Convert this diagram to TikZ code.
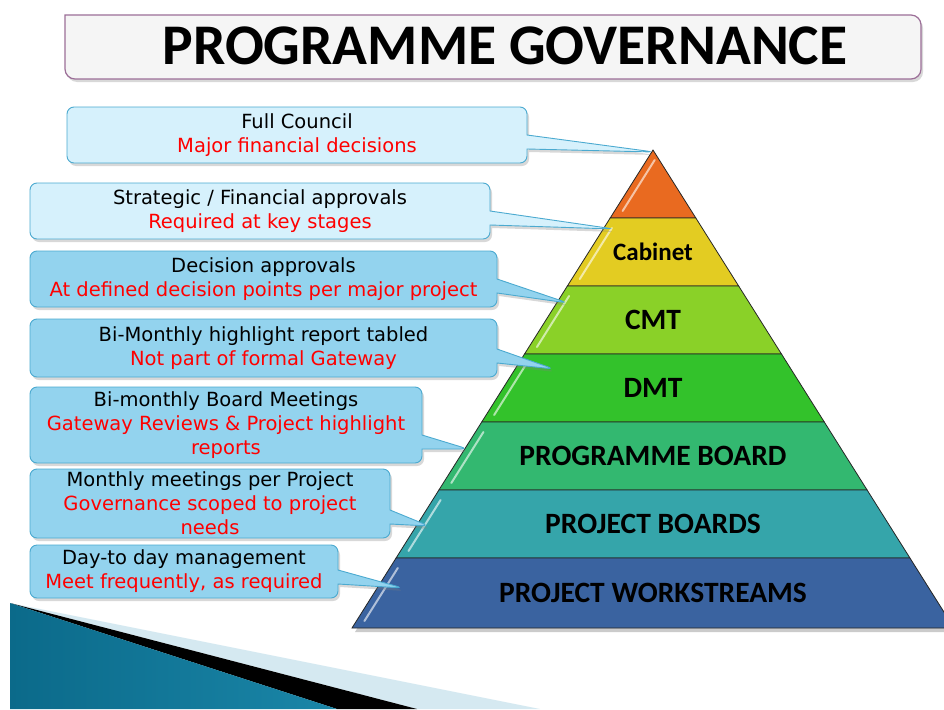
\documentclass[tikz,border=0pt]{standalone}
\usepackage{fontspec}
\setmainfont{DejaVu Sans}
\newfontfamily\calfont{Carlito}
\usetikzlibrary{shapes.callouts,shadows}

\definecolor{palenote}{HTML}{D6F1FC}
\definecolor{deepnote}{HTML}{93D3EE}
\definecolor{noteline}{HTML}{4BAAD0}
\definecolor{titleline}{HTML}{9C6F98}
\definecolor{tierA}{HTML}{E96A20}
\definecolor{tierB}{HTML}{E3CC22}
\definecolor{tierC}{HTML}{8AD128}
\definecolor{tierD}{HTML}{33C22B}
\definecolor{tierE}{HTML}{33B870}
\definecolor{tierF}{HTML}{35A5AA}
\definecolor{tierG}{HTML}{3A63A0}
\definecolor{wedgedark}{HTML}{0B6A8A}
\definecolor{wedgelight}{HTML}{45AED0}
\definecolor{wedgeend}{HTML}{1A86A8}
\definecolor{wedgepale}{HTML}{D5E9F1}

\begin{document}
\begin{tikzpicture}
  [x=1pt,y=-1pt,
   every node/.style={inner sep=0pt,align=center},
   note/.style={rectangle callout,rounded corners=7pt,draw=noteline,line width=0.9pt,
     callout pointer width=14pt,font=\fontsize{19.5}{24}\selectfont,
     drop shadow={opacity=0.3,shadow xshift=2pt,shadow yshift=-3pt}},
   pale/.style={note,fill=palenote},
   deep/.style={note,fill=deepnote},
   tier/.style={font=\calfont\bfseries\fontsize{29.5}{30}\selectfont}]

  \useasboundingbox (0,0) rectangle (944,709);
  \fill[white] (0,0) rectangle (944,709);

  % title bar
  \draw[titleline,line width=1.2pt,fill=black!4,
        drop shadow={opacity=0.3,shadow xshift=2pt,shadow yshift=-3pt}]
    (65,15) [rounded corners=10pt] -- (921,15) -- (921,79) -- (65,79) [sharp corners] -- cycle;
  \node (title) at (505,46) {\calfont\bfseries\fontsize{57.5}{60}\selectfont PROGRAMME GOVERNANCE};

  % bottom left wedge
  \fill[wedgepale] (10,603) -- (540,709) -- (417,709) -- cycle;
  \fill[black] (10,603) -- (417,709) -- (337,709) -- cycle;
  \shade[left color=wedgedark,middle color=wedgelight,right color=wedgeend]
    (10,603) -- (337,709) -- (10,709) -- cycle;

  % pyramid
  \fill[black!40,opacity=0.5] (355,632) -- (653,153) -- (957,632) -- cycle;
  \foreach \top/\bot/\col in {150/218/tierA,218/286/tierB,286/354/tierC,354/422/tierD,
                              422/490/tierE,490/558/tierF,558/628/tierG}
  {
    \pgfmathsetmacro\dt{0.6297*(\top-150)}
    \pgfmathsetmacro\db{0.6297*(\bot-150)}
    \pgfmathsetmacro\ha{653-0.6297*(\top+10-150)+8}
    \pgfmathsetmacro\hb{653-0.6297*(\bot-7-150)+8}
    \filldraw[fill=\col,draw=black!85,line width=0.8pt]
      (653-\dt,\top) -- (653+\dt,\top) -- (653+\db,\bot) -- (653-\db,\bot) -- cycle;
    \draw[white,opacity=0.6,line width=2pt,line cap=round] (\ha,\top+10) -- (\hb,\bot-7);
  }
  \node[tier,font=\calfont\bfseries\fontsize{25}{26}\selectfont] (cab) at (653,252) {Cabinet};
  \node[tier] (cmt) at (653,320) {CMT};
  \node[tier] (dmt) at (653,388) {DMT};
  \node[tier] (pgb) at (653,456) {PROGRAMME BOARD};
  \node[tier] (pjb) at (653,524) {PROJECT BOARDS};
  \node[tier] (pws) at (653,593) {PROJECT WORKSTREAMS};

  % notes on the left
  \node[pale,minimum width=460,minimum height=56,callout absolute pointer={(654,152)}]
    (council) at (297,135) {Full Council\\\textcolor{red}{Major financial decisions}};
  \node[pale,minimum width=460,minimum height=56,callout absolute pointer={(614,229)}]
    (strategic) at (260,211) {Strategic / Financial approvals\\\textcolor{red}{Required at key stages}};
  \node[deep,minimum width=467,minimum height=56,callout absolute pointer={(568,303)}]
    (decision) at (263.5,279) {Decision approvals\\\textcolor{red}{At defined decision points per major project}};
  \node[deep,minimum width=467,minimum height=58,callout absolute pointer={(554,369)}]
    (highlight) at (263.5,348) {Bi-Monthly highlight report tabled\\\textcolor{red}{Not part of formal Gateway}};
  \node[deep,minimum width=392,minimum height=76,callout absolute pointer={(468,449)}]
    (board) at (226,425) {Bi-monthly Board Meetings\\\textcolor{red}{Gateway Reviews \& Project highlight}\\\textcolor{red}{reports}};
  \node[deep,minimum width=360,minimum height=69,callout absolute pointer={(429,526)}]
    (monthly) at (210,503.5) {Monthly meetings per Project\\\textcolor{red}{Governance scoped to project}\\\textcolor{red}{needs}};
  \node[deep,minimum width=308,minimum height=53,callout absolute pointer={(403,588)}]
    (daily) at (184,571.5) {Day-to day management\\\textcolor{red}{Meet frequently, as required}};

\end{tikzpicture}
\end{document}
